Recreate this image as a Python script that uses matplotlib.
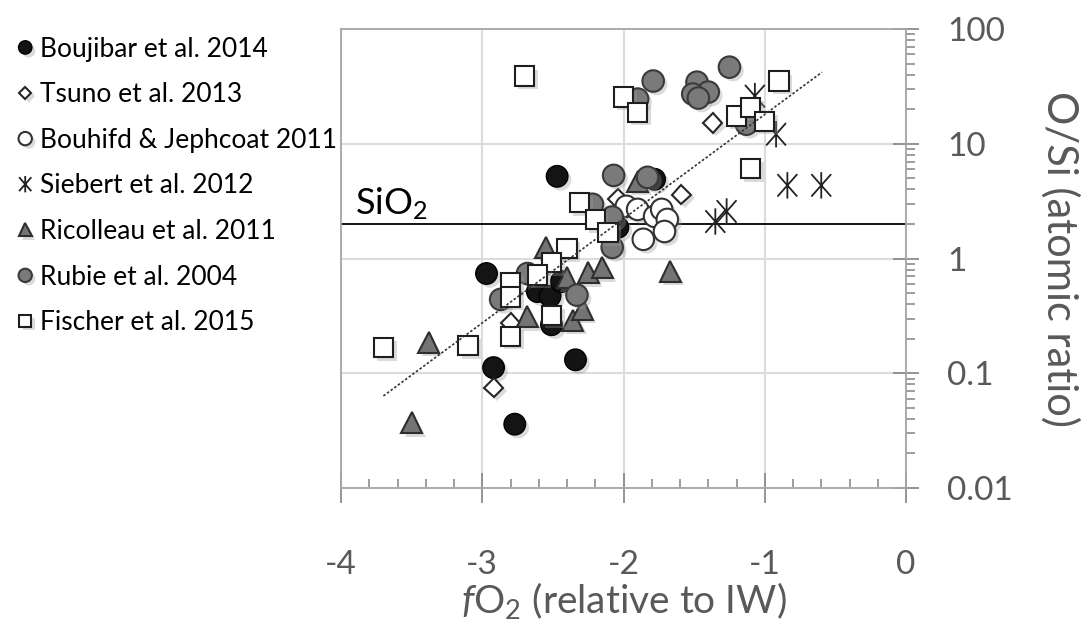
import numpy as np
import matplotlib
matplotlib.use('Agg')
import matplotlib.pyplot as plt
import matplotlib.patheffects as pe
from matplotlib.path import Path
from matplotlib.ticker import FixedLocator, MultipleLocator, LogLocator, NullFormatter, FuncFormatter

plt.rcParams['font.family'] = ['Lato', 'DejaVu Sans']
plt.rcParams['mathtext.fontset'] = 'custom'
plt.rcParams['mathtext.rm'] = 'Lato'
plt.rcParams['mathtext.it'] = 'Lato:italic'

# fO2 (log units relative to IW) and O/Si atomic ratio, per study
boujibar_x = [-2.47, -2.97, -2.92, -2.77, -2.34, -2.51, -2.61, -2.52, -2.44, -2.04, -1.78]
boujibar_y = [5.2, 0.74, 0.112, 0.036, 0.131, 0.265, 0.515, 0.47, 0.63, 1.87, 4.9]

tsuno_x = [-1.37, -1.59, -2.92, -2.80, -2.04]
tsuno_y = [15.1, 3.6, 0.075, 0.275, 3.3]

bouhifd_x = [-1.98, -1.90, -1.78, -1.73, -1.69, -1.86, -1.71]
bouhifd_y = [2.85, 2.68, 2.33, 2.68, 2.19, 1.47, 1.72]

siebert_x = [-1.07, -0.92, -0.84, -0.60, -1.27, -1.35]
siebert_y = [26.0, 12.1, 4.34, 4.34, 2.57, 2.1]

ricolleau_x = [-3.38, -3.50, -1.67, -2.68, -2.36, -2.29, -2.40, -2.25, -2.15, -2.55, -1.90]
ricolleau_y = [0.185, 0.037, 0.77, 0.31, 0.29, 0.36, 0.68, 0.75, 0.83, 1.25, 4.7]

rubie_x = [-1.79, -1.25, -1.48, -1.40, -1.51, -1.47, -1.90, -1.13, -2.07, -1.83, -2.22, -2.08, -2.08, -2.68, -2.87, -2.33]
rubie_y = [35.2, 46.5, 34.4, 28.2, 27.1, 25.0, 24.5, 14.8, 5.3, 5.1, 2.97, 2.3, 1.25, 0.74, 0.44, 0.48]

fischer_x = [-2.70, -2.00, -1.90, -0.90, -1.20, -1.10, -1.00, -1.10, -2.31, -2.20, -2.11, -2.40,
             -2.51, -2.61, -2.80, -2.80, -2.80, -2.51, -3.70, -3.10]
fischer_y = [38.9, 25.5, 18.8, 35.2, 17.4, 20.8, 15.7, 6.1, 3.08, 2.19, 1.69, 1.22,
             0.92, 0.72, 0.62, 0.46, 0.21, 0.32, 0.167, 0.174]

# regression line end points and SiO2 reference
fit_x = [-3.70, -0.595]
fit_y = [0.0635, 42.0]
sio2_ratio = 2.0

# asterisk marker: vertical bar plus an X
star = Path([(0, -1), (0, 1), (-0.75, -0.85), (0.75, 0.85), (-0.75, 0.85), (0.75, -0.85)],
            [Path.MOVETO, Path.LINETO, Path.MOVETO, Path.LINETO, Path.MOVETO, Path.LINETO])

shadow = [pe.SimplePatchShadow(offset=(2.5, -2.5), shadow_rgbFace='#999999', alpha=0.35), pe.Normal()]

fig = plt.figure(figsize=(10.84, 6.22), dpi=100)
ax = fig.add_axes([0.3146, 0.2154, 0.5212, 0.738])

series = [
    ('Boujibar et al. 2014', boujibar_x, boujibar_y, dict(marker='o', ms=15.5, mfc='#141414', mec='#000000', mew=1.0)),
    ('Tsuno et al. 2013', tsuno_x, tsuno_y, dict(marker='D', ms=10, mfc='white', mec='#262626', mew=1.5)),
    ('Bouhifd & Jephcoat 2011', bouhifd_x, bouhifd_y, dict(marker='o', ms=15.5, mfc='white', mec='#333333', mew=1.5)),
    ('Siebert et al. 2012', siebert_x, siebert_y, dict(marker=star, ms=19, mfc='none', mec='#222222', mew=1.3)),
    ('Ricolleau et al. 2011', ricolleau_x, ricolleau_y, dict(marker='^', ms=15, mfc='#747474', mec='#2e2e2e', mew=1.5)),
    ('Rubie et al. 2004', rubie_x, rubie_y, dict(marker='o', ms=15.5, mfc='#7a7a7a', mec='#3a3a3a', mew=1.5)),
    ('Fischer et al. 2015', fischer_x, fischer_y, dict(marker='s', ms=14, mfc='white', mec='#1e1e1e', mew=1.5)),
]

handles = []
for label, xs, ys, style in series:
    h, = ax.plot(xs, ys, ls='none', label=label, path_effects=shadow, zorder=3, **style)
    handles.append(h)

ax.plot(fit_x, fit_y, ls=(0, (1.5, 1.2)), color='#333333', lw=1.2, zorder=4)
ax.axhline(sio2_ratio, color='black', lw=1.3, zorder=2)
ax.text(-3.9, 2.42, 'SiO$_2$', fontsize=26, color='black', va='baseline', ha='left')

ax.set_xlim(-4, 0)
ax.set_yscale('log')
ax.set_ylim(0.01, 100)

gray = '#8c8c8c'
for s in ax.spines.values():
    s.set_color('#a6a6a6')
    s.set_linewidth(1.3)

ax.xaxis.set_major_locator(MultipleLocator(1))
ax.xaxis.set_minor_locator(MultipleLocator(0.2))
ax.xaxis.set_major_formatter(FuncFormatter(lambda v, p: '%g' % v))
ax.tick_params(axis='x', which='major', direction='inout', length=21, width=1.3, color=gray,
               labelsize=24, labelcolor='#595959', pad=34)
ax.tick_params(axis='x', which='minor', direction='in', length=6.5, width=1.2, color=gray)

ax.yaxis.tick_right()
ax.yaxis.set_label_position('right')
ax.yaxis.set_major_locator(FixedLocator([0.01, 0.1, 1, 10, 100]))
ax.yaxis.set_minor_locator(LogLocator(base=10, subs=np.arange(2, 10)))
ax.yaxis.set_minor_formatter(NullFormatter())
ax.yaxis.set_major_formatter(FuncFormatter(lambda v, p: '%g' % v))
ax.tick_params(axis='y', which='major', direction='inout', length=19, width=1.3, color=gray,
               labelsize=24, labelcolor='#595959', pad=20)
ax.tick_params(axis='y', which='minor', direction='out', length=6.5, width=1.2, color=gray)

ax.grid(True, which='major', color='#dcdcdc', lw=1.5, zorder=0)
ax.set_axisbelow(True)

ax.set_xlabel('$\\mathit{f}$O$_2$ (relative to IW)', fontsize=28, color='#595959', labelpad=0)
ax.set_ylabel('O/Si (atomic ratio)', fontsize=30, color='#595959', rotation=270, labelpad=48)

fig.legend(handles=handles, loc='upper left', bbox_to_anchor=(0.005, 0.958), frameon=False,
           fontsize=19, markerscale=0.62, handlelength=0.7, handletextpad=0.2,
           labelspacing=0.78, borderaxespad=0)

fig.savefig('out.png', dpi=100)
